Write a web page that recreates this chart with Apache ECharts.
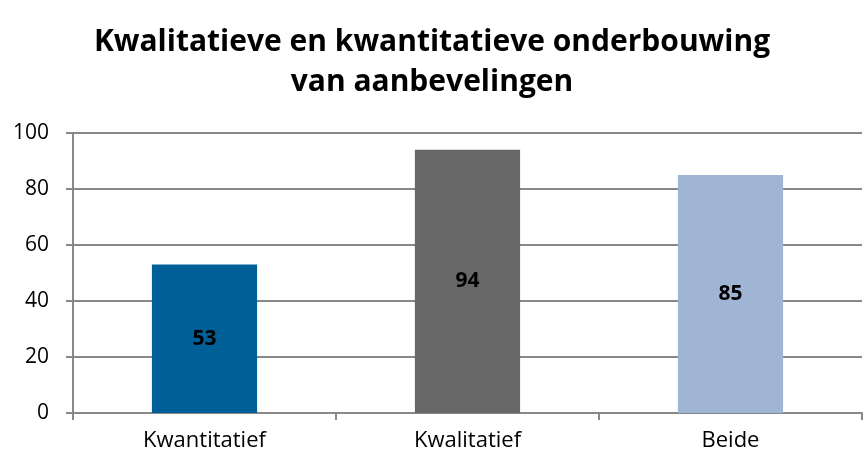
<!DOCTYPE html>
<html>
<head>
<meta charset="utf-8">
<script src="https://cdn.jsdelivr.net/npm/echarts@6/dist/echarts.min.js"></script>
<style>
  html, body { margin: 0; padding: 0; background: #fff; }
  #chart { width: 864px; height: 457px; }
</style>
</head>
<body>
<div id="chart"></div>
<script>
var categories = ['Kwantitatief', 'Kwalitatief', 'Beide'];
var values = [53, 94, 85];
var barColors = ['#005f96', '#676767', '#a0b5d4'];
var yTicks = { min: 0, max: 100, interval: 20 };

var myChart = echarts.init(document.getElementById('chart'));

var option = {
    backgroundColor: '#fff',
    animation: false,
    title: {
        text: 'Kwalitatieve en kwantitatieve onderbouwing\nvan aanbevelingen',
        left: 'center',
        top: 17,
        textStyle: {
            fontFamily: 'Open Sans',
            fontWeight: 'bold',
            fontSize: 30,
            lineHeight: 40,
            color: '#000'
        }
    },
    grid: {
        left: 73,
        right: 2,
        top: 133,
        bottom: 44
    },
    xAxis: {
        type: 'category',
        data: categories,
        axisLine: { lineStyle: { color: '#888', width: 2 } },
        axisTick: { show: true, length: 7, lineStyle: { color: '#888', width: 2 } },
        axisLabel: {
            color: '#000',
            fontFamily: 'Open Sans',
            fontSize: 22,
            margin: 17
        }
    },
    yAxis: {
        type: 'value',
        min: yTicks.min,
        max: yTicks.max,
        interval: yTicks.interval,
        axisLine: { show: true, lineStyle: { color: '#888', width: 2 } },
        axisTick: { show: true, length: 7, lineStyle: { color: '#888', width: 2 } },
        axisLabel: {
            color: '#000',
            fontFamily: 'Open Sans',
            fontSize: 21,
            margin: 24
        },
        splitLine: { lineStyle: { color: '#888', width: 2 } }
    },
    series: [{
        type: 'bar',
        barWidth: '40%',
        data: values.map(function (v, i) {
            return { value: v, itemStyle: { color: barColors[i] } };
        }),
        label: {
            show: true,
            position: 'inside',
            color: '#000',
            fontFamily: 'Open Sans',
            fontWeight: 'bold',
            fontSize: 21
        }
    }]
};

myChart.setOption(option);
</script>
</body>
</html>
